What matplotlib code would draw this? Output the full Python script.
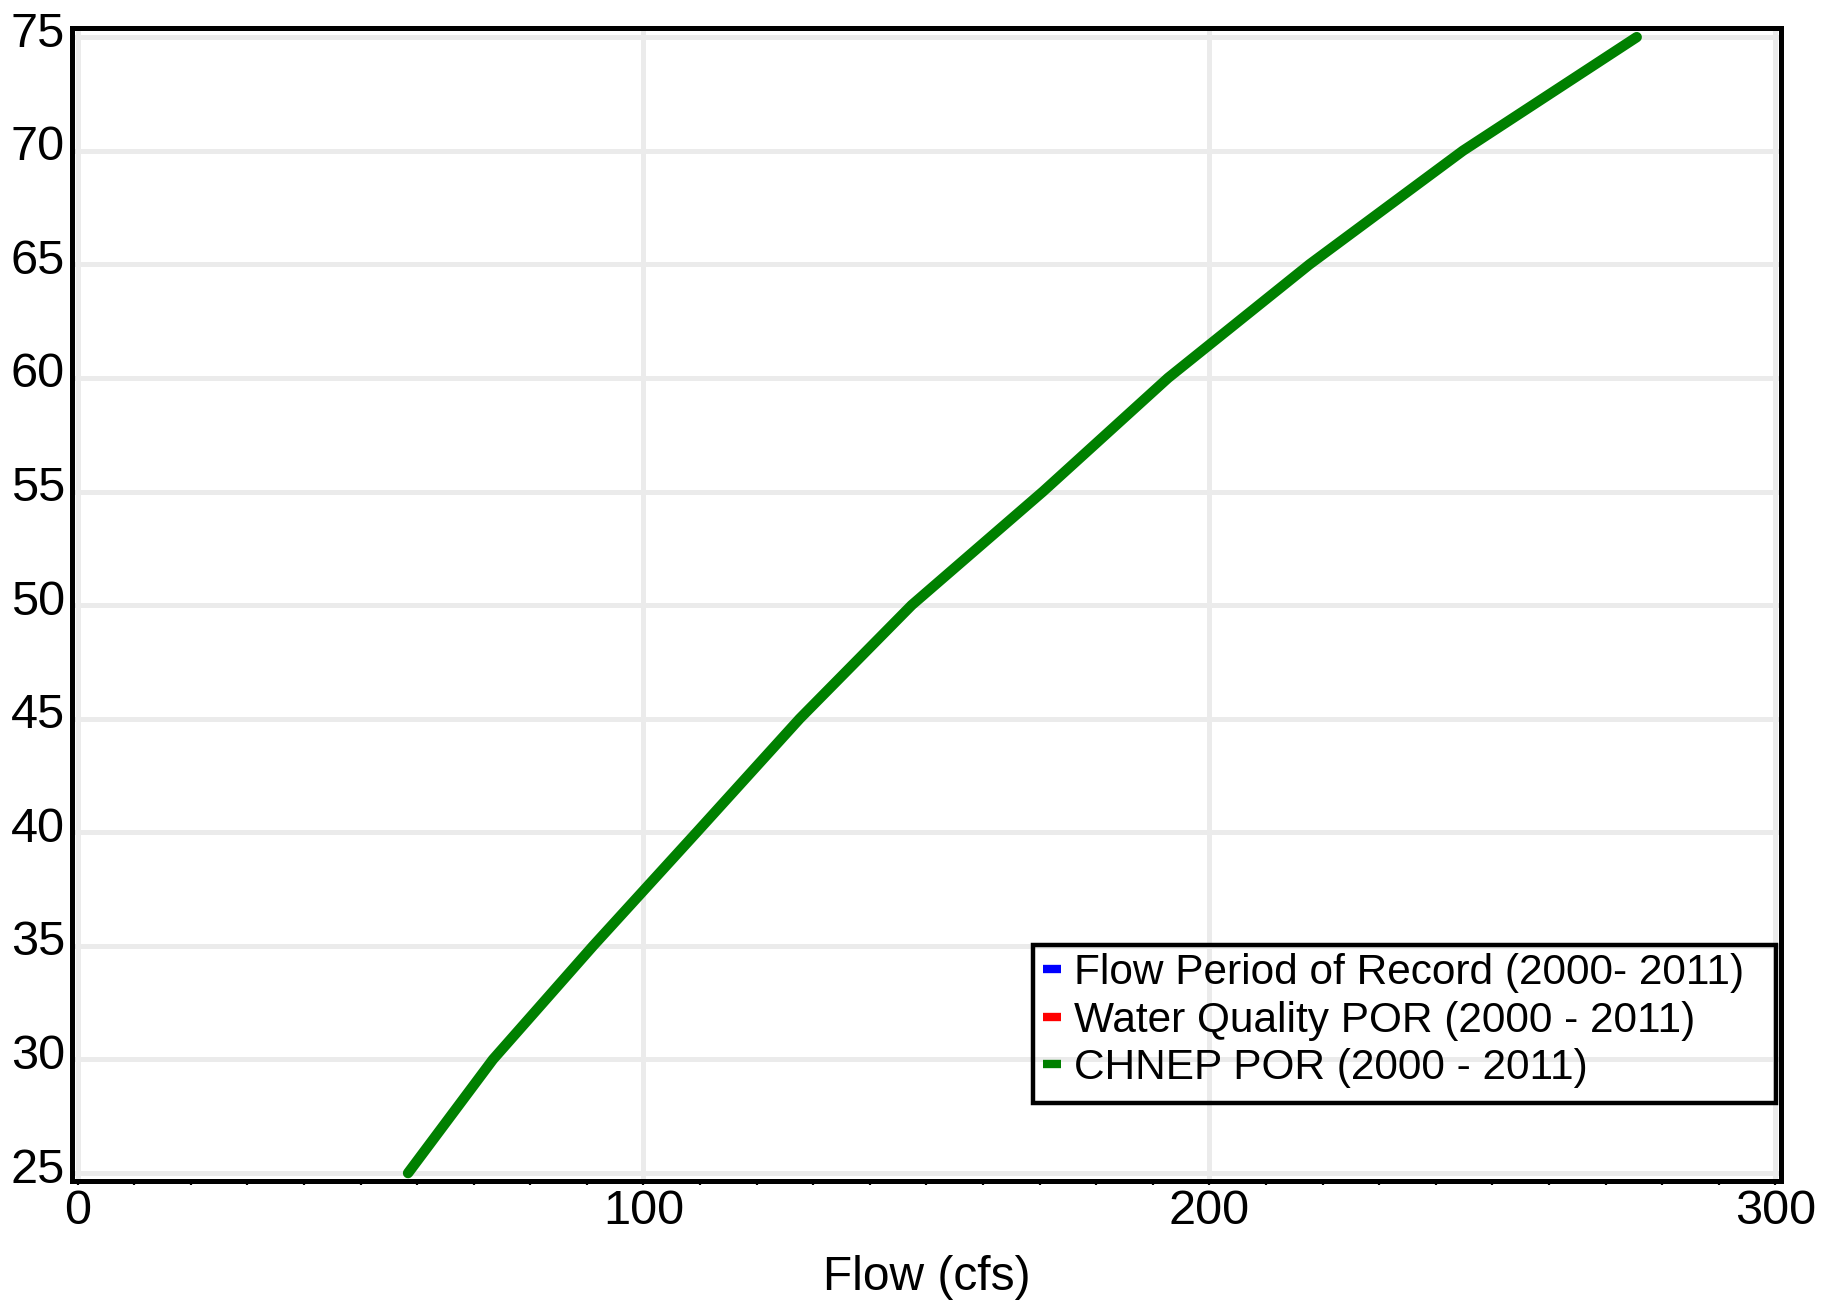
import matplotlib.pyplot as plt
from matplotlib.lines import Line2D
from matplotlib.patches import Rectangle
from matplotlib.ticker import MultipleLocator
from matplotlib.transforms import ScaledTranslation

plt.rcParams["font.family"] = ["Liberation Sans", "DejaVu Sans"]

# CHNEP POR curve
flow_cfs = [58.4, 73.4, 91.1, 109.4, 127.6, 147.4, 170.6, 192.7, 217.7, 244.8, 275.5]
value = [25, 30, 35, 40, 45, 50, 55, 60, 65, 70, 75]

series_labels = ["Flow Period of Record (2000- 2011)",
                 "Water Quality POR (2000 - 2011)",
                 "CHNEP POR (2000 - 2011)"]
series_colors = ["#0000ff", "#ff0000", "#008000"]

x_ticks = [0, 100, 200, 300]
y_ticks = [25, 30, 35, 40, 45, 50, 55, 60, 65, 70, 75]

fig = plt.figure(figsize=(18.38, 13.05), dpi=100)
ax = fig.add_axes([0.0392, 0.095, 0.9298, 0.8835])

ax.plot(flow_cfs, value, color=series_colors[2], linewidth=7.5,
        solid_capstyle="round", solid_joinstyle="round", zorder=3)

ax.set_xlim(-0.97, 301.0)
ax.set_ylim(24.65, 75.4)
ax.set_xticks(x_ticks)
ax.set_yticks(y_ticks)
ax.xaxis.set_minor_locator(MultipleLocator(10))

ax.grid(True, which="major", color="#ebebeb", linewidth=3.6, zorder=0)
ax.set_axisbelow(True)

for s in ax.spines.values():
    s.set_linewidth(3.6)
    s.set_color("black")

ax.tick_params(axis="x", which="both", direction="out", length=3, width=1.6,
               labelsize=35, pad=3, color="black")
ax.tick_params(axis="y", which="both", length=0, labelsize=35, pad=5)

# y labels sit a little above their grid lines in the original
for lab in ax.get_yticklabels():
    lab.set_transform(lab.get_transform() + ScaledTranslation(0, 0.08, fig.dpi_scale_trans))

ax.set_xlabel("Flow (cfs)", fontsize=34.5, labelpad=15)

handles = [Line2D([0], [0], color=c, linewidth=6, solid_capstyle="butt") for c in series_colors]
leg = ax.legend(handles, series_labels, loc="upper left",
                bbox_to_anchor=(0.5675, 0.2695), bbox_transform=fig.transFigure,
                fontsize=30.5, frameon=False, handlelength=0.42, handletextpad=0.3,
                labelspacing=0.17, borderpad=0.0, borderaxespad=0.0)

# legend box is taller than its entries
fig.patches.append(Rectangle((0.562, 0.1548), 0.4043, 0.1211, transform=fig.transFigure,
                             fill=False, edgecolor="black", linewidth=3.2, zorder=5))

fig.savefig("out.png", dpi=100)
